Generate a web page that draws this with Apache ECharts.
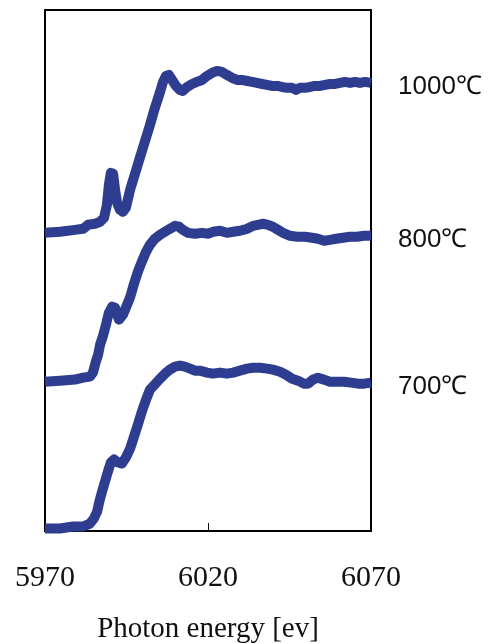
<!DOCTYPE html>
<html>
<head>
<meta charset="utf-8">
<script src="https://cdn.jsdelivr.net/npm/echarts@6/dist/echarts.min.js"></script>
<style>
  html, body { margin: 0; padding: 0; background: #fff; }
  #chart { width: 490px; height: 644px; }
</style>
</head>
<body>
<div id="chart"></div>
<script>
// XANES spectra (normalized absorption, stacked by +1 per temperature)
const xTicks = [5970, 6020, 6070];
const tickMarks = [6020];

const energy1000 = [5970, 5974.6, 5979.2, 5981.7, 5983.2, 5985.3, 5986.9, 5988.1, 5989.0, 5989.6, 5990.2, 5990.9, 5991.5, 5992.1, 5993.0, 5993.9, 5994.8, 5996.1, 5997.6, 5999.1, 6000.7, 6002.2, 6003.7, 6005.3, 6006.2, 6007.1, 6008.0, 6009.0, 6010.2, 6011.4, 6012.3, 6013.6, 6015.1, 6016.6, 6018.2, 6019.7, 6021.2, 6022.8, 6024.3, 6025.8, 6027.4, 6028.9, 6030.4, 6032.0, 6033.5, 6035.0, 6036.6, 6038.1, 6039.6, 6041.2, 6042.7, 6044.2, 6045.8, 6047.0, 6048.2, 6049.8, 6051.3, 6052.8, 6054.4, 6055.9, 6057.4, 6059.0, 6060.5, 6062.0, 6063.6, 6065.1, 6066.6, 6068.2, 6070];
const mu1000 = [2.003, 2.010, 2.023, 2.030, 2.057, 2.064, 2.077, 2.104, 2.191, 2.326, 2.406, 2.399, 2.292, 2.205, 2.158, 2.144, 2.171, 2.292, 2.399, 2.507, 2.621, 2.728, 2.842, 2.950, 3.017, 3.057, 3.064, 3.030, 2.990, 2.963, 2.956, 2.983, 3.003, 3.017, 3.030, 3.057, 3.077, 3.091, 3.084, 3.064, 3.044, 3.030, 3.030, 3.023, 3.017, 3.010, 3.003, 2.997, 2.990, 2.990, 2.983, 2.977, 2.977, 2.963, 2.977, 2.977, 2.983, 2.990, 2.990, 2.997, 3.003, 3.003, 3.010, 3.017, 3.010, 3.017, 3.010, 3.017, 3.010];

const energy800 = [5970, 5974.6, 5979.2, 5981.7, 5983.8, 5984.7, 5985.6, 5986.3, 5986.9, 5987.8, 5988.7, 5989.6, 5990.6, 5991.5, 5992.7, 5993.9, 5994.8, 5996.1, 5997.3, 5998.5, 5999.7, 6001.0, 6002.2, 6003.7, 6005.3, 6006.8, 6008.3, 6009.9, 6011.1, 6012.3, 6013.9, 6016.0, 6018.2, 6020.0, 6021.5, 6023.7, 6025.8, 6027.7, 6029.8, 6032.0, 6033.8, 6035.3, 6036.9, 6038.4, 6039.9, 6041.5, 6043.0, 6045.2, 6047.3, 6049.8, 6051.9, 6053.7, 6055.6, 6057.4, 6059.3, 6061.4, 6063.6, 6065.7, 6067.9, 6070];
const mu800 = [1.003, 1.010, 1.017, 1.030, 1.037, 1.064, 1.138, 1.185, 1.252, 1.312, 1.386, 1.466, 1.507, 1.500, 1.420, 1.453, 1.500, 1.570, 1.661, 1.742, 1.809, 1.876, 1.923, 1.963, 1.990, 2.010, 2.030, 2.050, 2.044, 2.023, 2.003, 1.997, 2.003, 1.997, 2.010, 2.017, 2.003, 2.010, 2.017, 2.030, 2.050, 2.057, 2.064, 2.057, 2.044, 2.023, 2.003, 1.983, 1.977, 1.977, 1.970, 1.963, 1.950, 1.956, 1.963, 1.970, 1.977, 1.977, 1.983, 1.983];

const energy700 = [5970, 5974.6, 5978.6, 5981.7, 5983.8, 5985.0, 5986.0, 5986.6, 5987.5, 5988.4, 5989.3, 5990.2, 5991.2, 5992.4, 5993.6, 5994.8, 5996.1, 5997.3, 5998.5, 5999.7, 6001.0, 6002.2, 6003.7, 6005.3, 6006.8, 6008.3, 6009.9, 6011.4, 6012.9, 6014.5, 6016.0, 6017.5, 6019.7, 6021.5, 6023.7, 6025.8, 6027.7, 6029.8, 6032.0, 6033.8, 6036.0, 6038.1, 6039.9, 6042.1, 6043.9, 6045.8, 6047.6, 6049.4, 6050.7, 6052.2, 6053.7, 6055.6, 6057.4, 6059.6, 6061.7, 6063.9, 6066.0, 6067.9, 6070];
const mu700 = [0.017, 0.017, 0.030, 0.030, 0.050, 0.084, 0.131, 0.191, 0.265, 0.332, 0.399, 0.460, 0.480, 0.460, 0.453, 0.493, 0.553, 0.634, 0.715, 0.802, 0.883, 0.950, 0.985, 1.023, 1.057, 1.084, 1.104, 1.111, 1.104, 1.091, 1.077, 1.077, 1.064, 1.057, 1.064, 1.057, 1.064, 1.077, 1.091, 1.097, 1.097, 1.091, 1.084, 1.070, 1.050, 1.023, 1.010, 0.990, 0.990, 1.017, 1.030, 1.017, 1.003, 1.003, 1.003, 0.997, 0.990, 0.990, 0.997];

const seriesNames = ['1000℃', '800℃', '700℃'];
const lineColor = '#2E3D8F';

function pairs(xs, ys) {
  return xs.map((x, i) => [x, ys[i]]);
}

function spectrum(name, xs, ys) {
  return {
    name: name,
    type: 'line',
    data: pairs(xs, ys),
    symbol: 'none',
    smooth: false,
    clip: true,
    lineStyle: { color: lineColor, width: 10, cap: 'butt', join: 'round' },
    endLabel: {
      show: true,
      formatter: '{a}',
      distance: 27,
      offset: [0, 4],
      color: '#111',
      fontFamily: 'Liberation Sans',
      fontSize: 26
    },
    silent: true
  };
}

const chart = echarts.init(document.getElementById('chart'), null, { renderer: 'canvas' });
chart.setOption({
  animation: false,
  backgroundColor: '#ffffff',
  grid: {
    left: 45, right: 119, top: 10, bottom: 113,
    outerBoundsMode: 'none',
    containLabel: false,
    show: true, borderColor: '#000', borderWidth: 2, backgroundColor: 'transparent'
  },
  xAxis: {
    type: 'value',
    min: 5970, max: 6070,
    name: 'Photon energy [ev]',
    nameLocation: 'middle',
    nameGap: 84,
    nameTextStyle: {
      color: '#111',
      fontFamily: '"Liberation Serif", "Times New Roman", serif',
      fontSize: 29
    },
    axisLine: { show: true, lineStyle: { color: '#000', width: 2 } },
    axisTick: {
      show: true, inside: true, length: 8,
      customValues: tickMarks,
      lineStyle: { color: '#000', width: 1 }
    },
    axisLabel: {
      show: true,
      customValues: xTicks,
      formatter: v => String(v),
      margin: 32,
      color: '#111',
      fontFamily: '"Liberation Serif", "Times New Roman", serif',
      fontSize: 30
    },
    splitLine: { show: false }
  },
  yAxis: {
    type: 'value',
    min: 0, max: 3.5,
    show: false,
    splitLine: { show: false }
  },
  series: [
    spectrum(seriesNames[0], energy1000, mu1000),
    spectrum(seriesNames[1], energy800, mu800),
    spectrum(seriesNames[2], energy700, mu700)
  ]
});
</script>
</body>
</html>
